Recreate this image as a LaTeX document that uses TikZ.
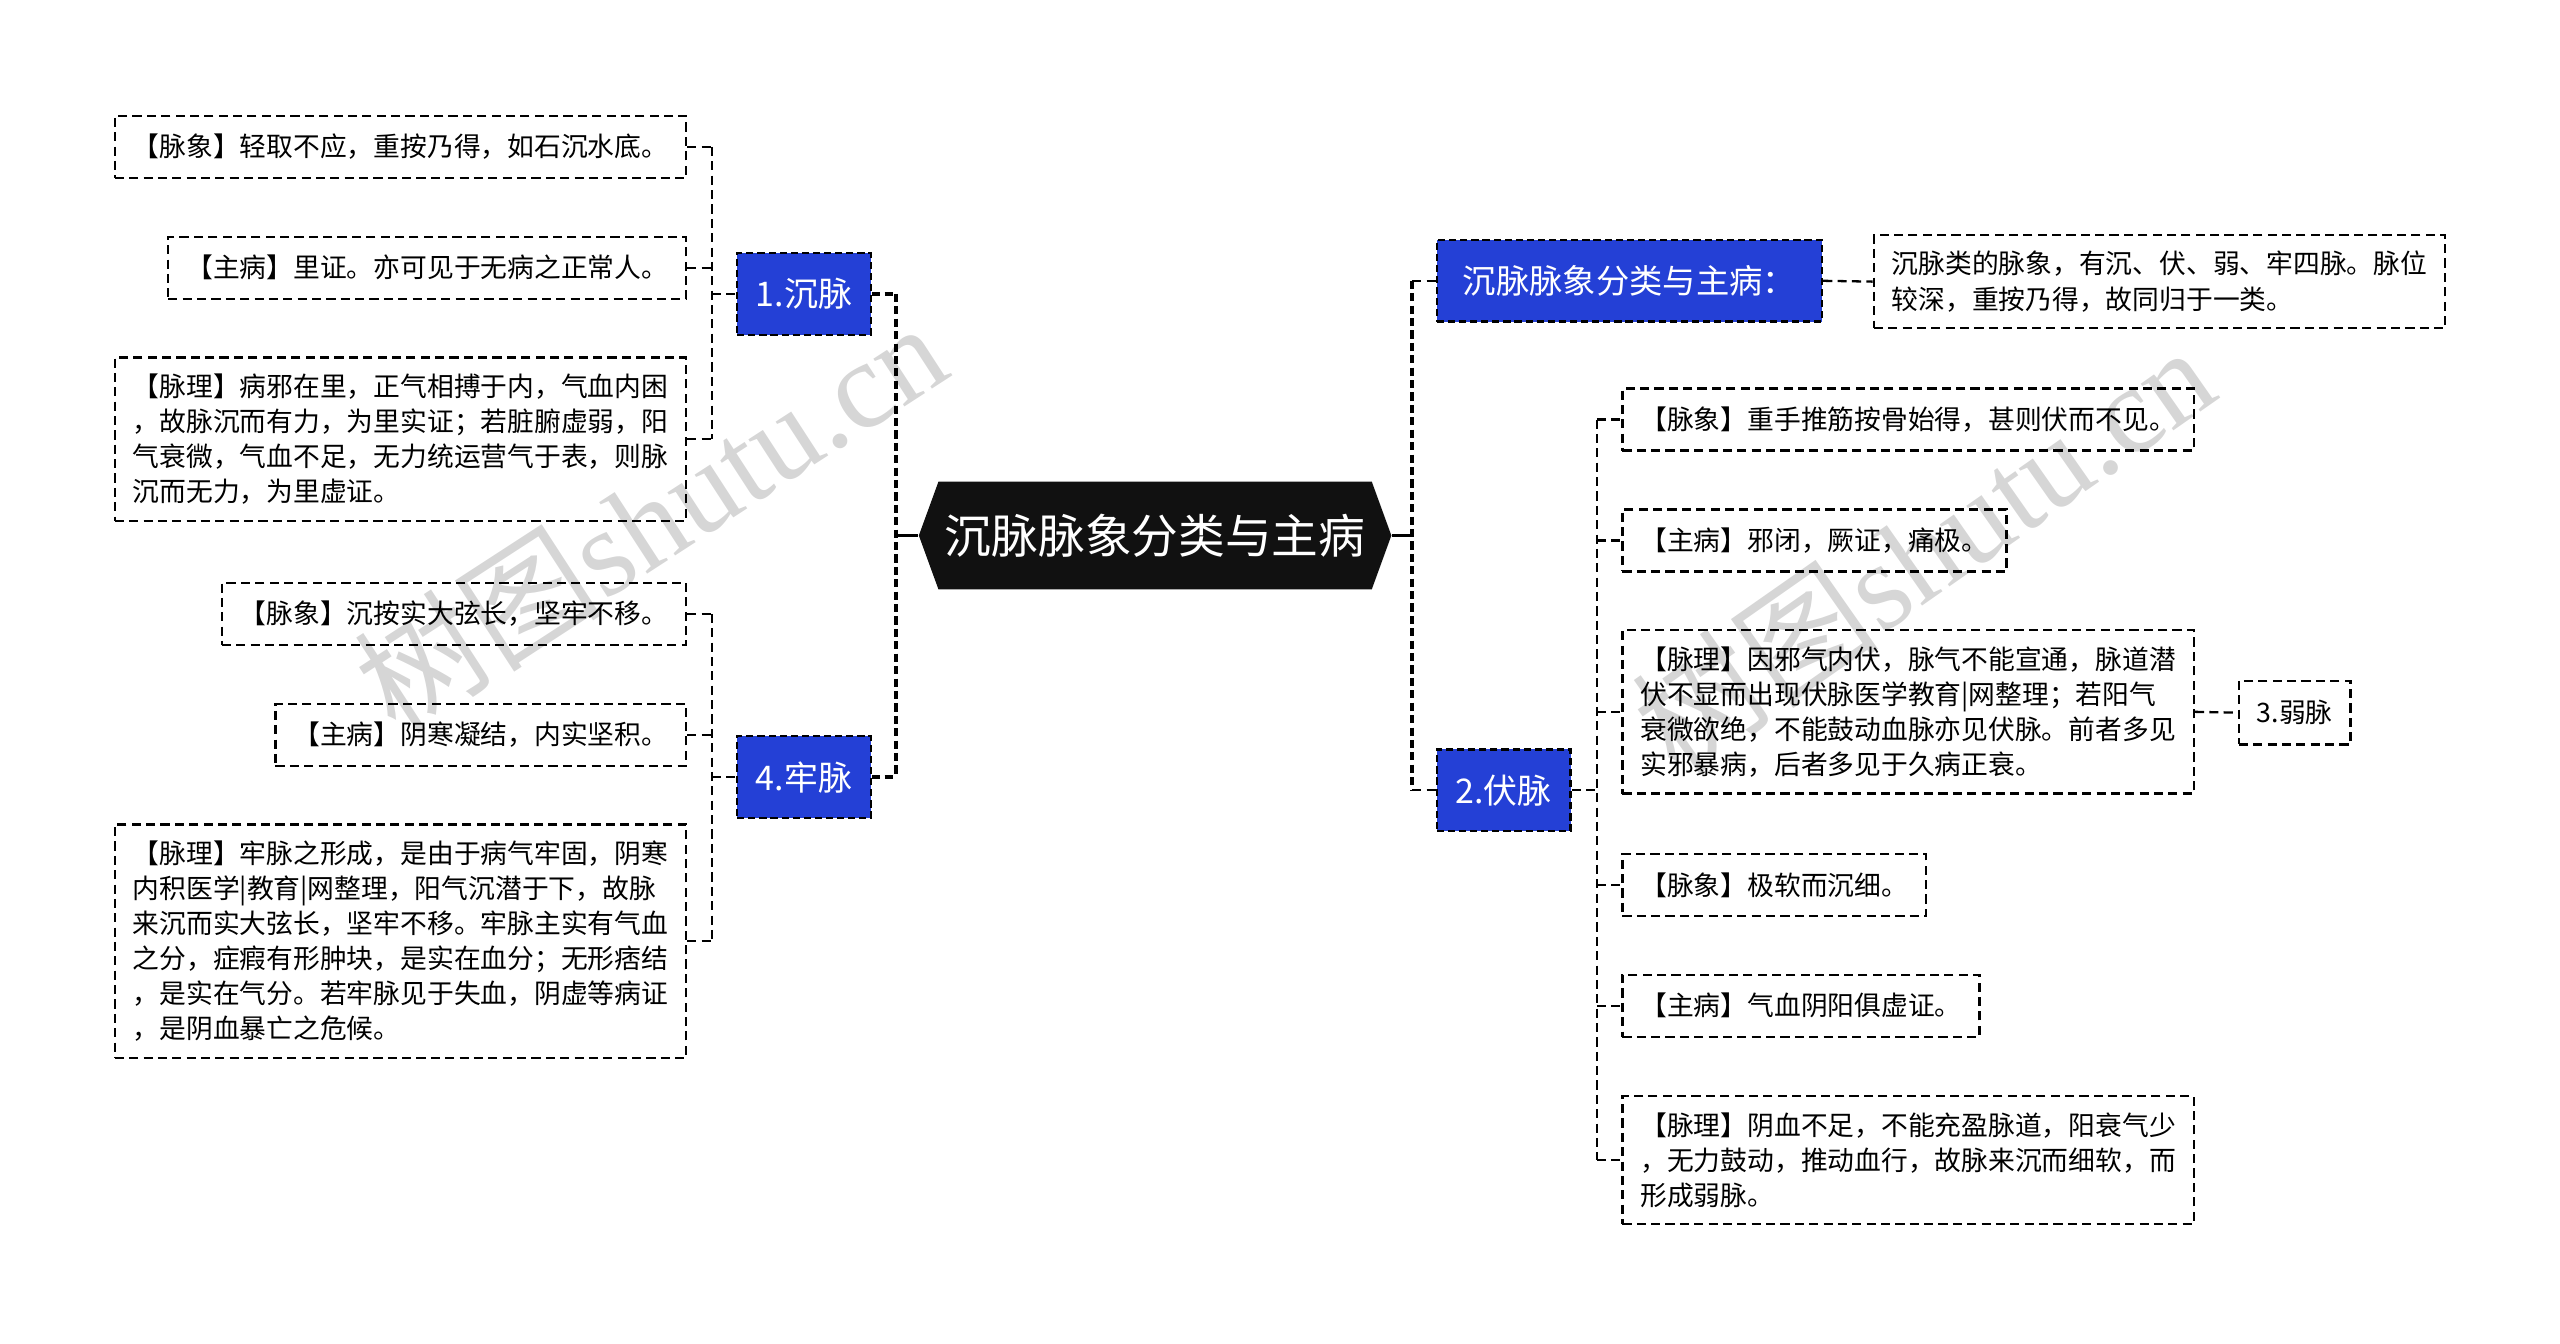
\documentclass[tikz,border=0pt]{standalone}
\usepackage{fontspec}
\usepackage{tikz}
\usetikzlibrary{calc, positioning, shapes.symbols}
\usepackage{xcolor}
\newfontfamily\zhfont{Noto Sans CJK SC}
\newfontfamily\wmfont{Liberation Serif}
\definecolor{topicBlue}{RGB}{36, 64, 214}
\definecolor{rootBlack}{RGB}{17, 17, 17}
\definecolor{markGray}{RGB}{214, 214, 214}

\begin{document}
\begin{tikzpicture}[x=0.5pt, y=-0.5pt,
  leaf/.style={draw, line width=0.7pt, dash pattern=on 2.8pt off 1.6pt, inner xsep=5.5pt, inner ysep=5pt,
    minimum height=19pt, align=left, font=\zhfont\fontsize{8.2pt}{10.75pt}\selectfont},
  topic/.style={draw, fill=topicBlue, text=white, line width=0.7pt, dash pattern=on 2.2pt off 1.2pt,
    minimum height=25pt, font=\zhfont\fontsize{10.4pt}{12pt}\selectfont},
  link/.style={line width=0.7pt, dash pattern=on 2.8pt off 1.6pt},
  trunk/.style={line width=1.2pt, dash pattern=on 2.5pt off 1.3pt},
  wmark/.style={text=markGray, font=\fontsize{38pt}{38pt}\selectfont}]
  \useasboundingbox (0, 0) rectangle (1568, 823);

  % watermarks
  \node[wmark, rotate=33] (wmL) at (398, 316) {\zhfont 树图\wmfont shutu.cn};
  \node[wmark, rotate=35] (wmR) at (1178, 336) {\zhfont 树图\wmfont shutu.cn};

  \node[signal, signal to=west and east, signal pointer angle=140, fill=rootBlack, text=white,
    inner xsep=2pt, minimum height=33pt, font=\zhfont\fontsize{14.3pt}{16pt}\selectfont] (root) at (707.5, 328) {沉脉脉象分类与主病};

  % 1. left, top
  \node[topic, minimum width=41pt] (chen) at (492.5, 180) {1.沉脉};
  \node[leaf, anchor=east] (c1) at (421, 90) {【脉象】轻取不应，重按乃得，如石沉水底。};
  \node[leaf, anchor=east] (c2) at (421, 164) {【主病】里证。亦可见于无病之正常人。};
  \node[leaf, anchor=east] (c3) at (421, 269) {【脉理】病邪在里，正气相搏于内，气血内困\\
    ，故脉沉而有力，为里实证；若脏腑虚弱，阳\\
    气衰微，气血不足，无力统运营气于表，则脉\\
    沉而无力，为里虚证。};

  % 4. left, bottom
  \node[topic, minimum width=41pt] (lao) at (492.5, 476) {4.牢脉};
  \node[leaf, anchor=east] (l1) at (421, 376) {【脉象】沉按实大弦长，坚牢不移。};
  \node[leaf, anchor=east] (l2) at (421, 450) {【主病】阴寒凝结，内实坚积。};
  \node[leaf, anchor=east] (l3) at (421, 576.5) {【脉理】牢脉之形成，是由于病气牢固，阴寒\\
    内积医学|教育|网整理，阳气沉潜于下，故脉\\
    来沉而实大弦长，坚牢不移。牢脉主实有气血\\
    之分，症瘕有形肿块，是实在血分；无形痞结\\
    ，是实在气分。若牢脉见于失血，阴虚等病证\\
    ，是阴血暴亡之危候。};

  % right, top
  \node[topic, minimum width=118pt, font=\zhfont\fontsize{10.2pt}{12pt}\selectfont] (intro) at (998, 172) {沉脉脉象分类与主病：};
  \node[leaf, anchor=west] (introText) at (1147, 172.5) {沉脉类的脉象，有沉、伏、弱、牢四脉。脉位\\
    较深，重按乃得，故同归于一类。};

  % 2. right, bottom
  \node[topic, minimum width=41pt] (fu) at (921, 484) {2.伏脉};
  \node[leaf, anchor=west] (f1) at (993, 257) {【脉象】重手推筋按骨始得，甚则伏而不见。};
  \node[leaf, anchor=west] (f2) at (993, 331) {【主病】邪闭，厥证，痛极。};
  \node[leaf, anchor=west] (f3) at (993, 436) {【脉理】因邪气内伏，脉气不能宣通，脉道潜\\
    伏不显而出现伏脉医学教育|网整理；若阳气\\
    衰微欲绝，不能鼓动血脉亦见伏脉。前者多见\\
    实邪暴病，后者多见于久病正衰。};
  \node[leaf, anchor=west] (f4) at (993, 542) {【脉象】极软而沉细。};
  \node[leaf, anchor=west] (f5) at (993, 616) {【主病】气血阴阳俱虚证。};
  \node[leaf, anchor=west] (f6) at (993, 710.5) {【脉理】阴血不足，不能充盈脉道，阳衰气少\\
    ，无力鼓动，推动血行，故脉来沉而细软，而\\
    形成弱脉。};
  \node[leaf, minimum height=19.5pt] (ruo) at (1405.5, 436.5) {3.弱脉};

  % brackets
  \coordinate (jc) at (436, 180);
  \coordinate (jl) at (436, 476);
  \coordinate (jm) at (549, 328);
  \coordinate (jn) at (865, 328);
  \coordinate (jf) at (978, 484);

  \foreach \n in {c1, c2, c3}
    \draw[link] (\n.east) -- (\n.east -| jc);
  \draw[link] (c1.east -| jc) -- (c3.east -| jc);
  \draw[link] (jc) -- (chen.west);

  \foreach \n in {l1, l2, l3}
    \draw[link] (\n.east) -- (\n.east -| jl);
  \draw[link] (l1.east -| jl) -- (l3.east -| jl);
  \draw[link] (jl) -- (lao.west);

  \draw[trunk] (chen.east) -- (chen.east -| jm);
  \draw[trunk] (lao.east) -- (lao.east -| jm);
  \draw[trunk] (chen.east -| jm) -- (lao.east -| jm);
  \draw[line width=1.2pt] (jm) -- (root.west);

  \draw[line width=1.2pt] (root.east) -- (jn);
  \draw[trunk] (intro.west -| jn) -- (fu.west -| jn);
  \draw[link] (intro.west -| jn) -- (intro.west);
  \draw[link] (fu.west -| jn) -- (fu.west);
  \draw[link] (intro.east) -- (introText.west);

  \foreach \n in {f1, f2, f3, f4, f5, f6}
    \draw[link] (\n.west -| jf) -- (\n.west);
  \draw[link] (f1.west -| jf) -- (f6.west -| jf);
  \draw[link] (fu.east) -- (jf);
  \draw[link] (f3.east) -- (ruo.west);
\end{tikzpicture}
\end{document}
